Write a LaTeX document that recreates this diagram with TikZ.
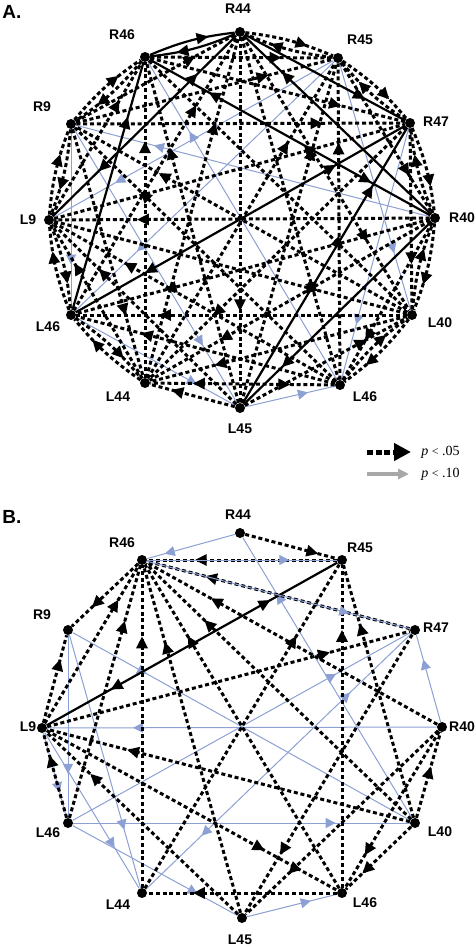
\documentclass[tikz,border=0pt]{standalone}
\usepackage{fontspec}
\setmainfont{Liberation Sans}
\newfontfamily\legserif{Liberation Serif}
\usetikzlibrary{arrows.meta,decorations.markings}
\definecolor{bluegray}{RGB}{140,160,212}
\definecolor{leggray}{RGB}{168,168,168}
\pgfdeclarelayer{bluel}
\pgfdeclarelayer{edgel}
\pgfsetlayers{bluel,edgel,main}
\newcommand\Ed[3]{\draw[#1] (#2) -- (#3);}
\newcommand\Eb[3]{\draw[#1,tip=.7] (#2) to[bend left=8] (#3);\draw[#1,tip=.7] (#3) to[bend left=8] (#2);}
\tikzset{
  dot/.style={circle,fill=black,inner sep=0pt,minimum size=5pt},
  lab/.style={font=\fontsize{7}{8}\selectfont\bfseries,inner sep=0pt},
  ttl/.style={font=\fontsize{9.5}{10}\selectfont\bfseries,inner sep=0pt},
  dl/.style={line width=1.5pt,dash pattern=on 2pt off 1.4pt,black},
  sl/.style={line width=1.1pt,black},
  bl/.style={line width=0.5pt,bluegray},
  tip/.style={postaction={decorate,decoration={markings,mark=at position #1 with {\arrow{Triangle[length=6pt,width=5.5pt]}}}}},
  rtip/.style={postaction={decorate,decoration={markings,mark=at position #1 with {\arrowreversed{Triangle[length=6pt,width=5.5pt]}}}}},
  btip/.style={postaction={decorate,decoration={markings,mark=at position #1 with {\arrow{Triangle[length=5pt,width=5pt]}}}}},
  brtip/.style={postaction={decorate,decoration={markings,mark=at position #1 with {\arrowreversed{Triangle[length=5pt,width=5pt]}}}}},
  legt/.style={font=\fontsize{7}{8}\selectfont\legserif,inner sep=0pt,anchor=west}
}
\begin{document}
\begin{tikzpicture}[x=0.5pt,y=-0.5pt]
\useasboundingbox (0,0) rectangle (476,947);
% ---------------- Panel A nodes
\foreach \n/\x/\y in {a0/240/32,a1/338/58,a2/410/123,a3/435/218,a4/412/315,a5/340/385,a6/240/408,a7/145/383,a8/71/315,a9/49/220,a10/71/124,a11/145/57}
  \node[dot] (\n) at (\x,\y) {};
\node[ttl,anchor=west] (titA) at (2,12) {A.};
\node[lab] (ta0) at (238,9) {R44};
\node[lab] (ta1) at (360,40) {R45};
\node[lab] (ta2) at (436,122) {R47};
\node[lab] (ta3) at (462,218) {R40};
\node[lab] (ta4) at (440,323) {L40};
\node[lab] (ta5) at (365,397) {L46};
\node[lab] (ta6) at (240,429) {L45};
\node[lab] (ta7) at (118,397) {L44};
\node[lab] (ta8) at (48,327) {L46};
\node[lab] (ta9) at (28,220) {L9};
\node[lab] (ta10) at (42,107) {R9};
\node[lab] (ta11) at (122,35) {R46};
% ---------------- Panel B nodes
\foreach \n/\x/\y in {b0/240/533,b1/342/560,b2/415/630,b3/442/727,b4/415/823,b5/342/893,b6/242/918,b7/142/893,b8/68/823,b9/42/728,b10/68/630,b11/142/560}
  \node[dot] (\n) at (\x,\y) {};
\node[ttl,anchor=west] (titB) at (2,517) {B.};
\node[lab] (tb0) at (238,515) {R44};
\node[lab] (tb1) at (360,548) {R45};
\node[lab] (tb2) at (436,628) {R47};
\node[lab] (tb3) at (462,727) {R40};
\node[lab] (tb4) at (440,832) {L40};
\node[lab] (tb5) at (365,903) {L46};
\node[lab] (tb6) at (240,940) {L45};
\node[lab] (tb7) at (118,905) {L44};
\node[lab] (tb8) at (48,833) {L46};
\node[lab] (tb9) at (28,727) {L9};
\node[lab] (tb10) at (42,615) {R9};
\node[lab] (tb11) at (122,543) {R46};
% ---------------- Legend
\coordinate (l1s) at (367,452); \coordinate (l1e) at (411,452);
\coordinate (l2s) at (367,474); \coordinate (l2e) at (409,474);
\draw[line width=2.5pt,dash pattern=on 3pt off 1.3pt,-{Triangle[length=8.5pt,width=8.5pt]}] (l1s) -- (l1e);
\draw[line width=1.6pt,leggray,-{Triangle[length=5.5pt,width=5pt]}] (l2s) -- (l2e);
\node[legt] (lg1) at (421,452) {\textit{p} {\fontsize{6}{7}\selectfont<} .05};
\node[legt] (lg2) at (421,474) {\textit{p} {\fontsize{6}{7}\selectfont<} .10};
% ---------------- Panel A edges
\begin{pgfonlayer}{bluel}
\Ed{bl,btip=.7}{a6}{a5}
\Ed{bl,btip=.76}{a8}{a6}
\Ed{bl,btip=.75}{a10}{a8}
\Ed{bl,btip=.77}{a1}{a4}
\Ed{bl,btip=.78}{a2}{a5}
\Ed{bl,btip=.79}{a10}{a6}
\Ed{bl,btip=.78}{a1}{a9}
\Ed{bl,btip=.76}{a1}{a8}
\Ed{bl,btip=.78}{a3}{a10}
\Ed{bl,btip=.78}{a5}{a11}
\end{pgfonlayer}
\begin{pgfonlayer}{edgel}
\Eb{dl}{a0}{a1}
\Eb{dl}{a1}{a2}
\Eb{dl}{a2}{a3}
\Eb{dl}{a3}{a4}
\Eb{dl}{a4}{a5}
\Ed{dl,tip=.75}{a6}{a7}
\Eb{dl}{a7}{a8}
\Eb{dl}{a8}{a9}
\Eb{dl}{a9}{a10}
\Eb{dl}{a10}{a11}
\Ed{dl,tip=.75}{a1}{a3}
\Ed{dl,tip=.75}{a2}{a4}
\Ed{dl,tip=.75}{a3}{a5}
\Ed{dl,tip=.75}{a6}{a4}
\Ed{dl,tip=.77,rtip=.24}{a5}{a7}
\Ed{dl,tip=.75}{a7}{a9}
\Ed{dl,tip=.75}{a9}{a11}
\Ed{dl,tip=.75}{a10}{a0}
\Ed{dl,tip=.72}{a11}{a1}
\Ed{dl,tip=.75}{a4}{a7}
\Ed{dl,tip=.75}{a5}{a8}
\Ed{dl,tip=.75}{a6}{a9}
\Ed{dl,tip=.75}{a10}{a7}
\Ed{dl,tip=.75}{a10}{a1}
\Ed{dl,tip=.75}{a11}{a2}
\Ed{dl,tip=.75}{a0}{a4}
\Ed{dl,tip=.75}{a5}{a1}
\Ed{dl,tip=.75}{a3}{a7}
\Ed{dl,tip=.75}{a4}{a8}
\Ed{dl,tip=.75}{a5}{a9}
\Ed{dl,tip=.75}{a7}{a11}
\Ed{dl,tip=.75}{a8}{a0}
\Ed{dl,tip=.75}{a10}{a2}
\Ed{dl,tip=.75}{a0}{a5}
\Ed{dl,tip=.75}{a6}{a1}
\Ed{dl,tip=.75}{a2}{a7}
\Ed{dl,tip=.75}{a3}{a8}
\Ed{dl,tip=.75}{a9}{a4}
\Ed{dl,tip=.75}{a5}{a10}
\Ed{dl,tip=.75}{a6}{a11}
\Ed{dl,tip=.75}{a7}{a0}
\Ed{dl,tip=.75}{a9}{a2}
\Ed{dl,tip=.75}{a11}{a4}
\Ed{dl,tip=.75}{a0}{a6}
\Ed{dl,tip=.75}{a7}{a1}
\Ed{dl,tip=.78}{a3}{a9}
\Ed{dl,tip=.75}{a4}{a10}
% solid
\Eb{sl}{a11}{a0}
\Ed{sl,tip=.75}{a0}{a2}
\Ed{sl,tip=.8}{a3}{a0}
\Ed{sl,tip=.8}{a3}{a6}
\Ed{sl,tip=.78}{a8}{a11}
\Ed{sl,tip=.79,rtip=.25}{a9}{a0}
\Ed{sl,tip=.79}{a6}{a2}
\Ed{sl,tip=.79,rtip=.21}{a11}{a3}
\Ed{sl,tip=.79,rtip=.21}{a8}{a2}
\end{pgfonlayer}
% ---------------- Panel B edges
\begin{pgfonlayer}{bluel}
\Ed{bl,btip=.8}{b0}{b11}
\Ed{bl,btip=.8}{b4}{b0}
\Ed{bl,btip=.78}{b3}{b9}
\Ed{bl,btip=.7}{b9}{b8}
\Ed{bl,btip=.74}{b9}{b7}
\Ed{bl,btip=.76}{b10}{b8}
\Ed{bl,btip=.77}{b10}{b7}
\Ed{bl,btip=.22}{b10}{b4}
\Ed{bl,btip=.78}{b8}{b4}
\Ed{bl,btip=.78}{b8}{b2}
\Ed{bl,btip=.76}{b8}{b6}
\Ed{bl,btip=.77,brtip=.21}{b7}{b2}
\Ed{bl,btip=.71}{b6}{b5}
\Ed{bl,btip=.72}{b3}{b2}
\end{pgfonlayer}
\begin{pgfonlayer}{edgel}
\Ed{dl,tip=.8}{b0}{b1}
\Ed{dl,tip=.75}{b1}{b11}
\Ed{dl,tip=.78}{b2}{b11}
\Ed{dl,tip=.78}{b3}{b11}
\Ed{dl,tip=.78}{b4}{b11}
\Ed{dl,tip=.78}{b5}{b11}
\Ed{dl,tip=.78}{b6}{b11}
\Ed{dl,tip=.78}{b7}{b11}
\Ed{dl,tip=.78}{b8}{b11}
\Ed{dl,tip=.78}{b9}{b11}
\Ed{dl,tip=.7}{b11}{b10}
\Ed{dl,tip=.73}{b9}{b10}
\Ed{dl,tip=.78}{b9}{b2}
\Ed{dl,tip=.78}{b4}{b9}
\Ed{dl,tip=.77}{b6}{b9}
\Ed{dl,tip=.74}{b8}{b9}
\Ed{dl,tip=.78}{b7}{b1}
\Ed{dl,tip=.76}{b5}{b7}
\Ed{dl,tip=.8}{b5}{b1}
\Ed{dl,tip=.77}{b4}{b1}
\Ed{dl,tip=.6}{b4}{b3}
\Ed{dl,tip=.78}{b3}{b6}
\Ed{dl,tip=.79}{b3}{b5}
\Ed{dl,tip=.79}{b2}{b6}
\Ed{dl,tip=.75}{b4}{b5}
\Ed{dl,tip=.75}{b9}{b5}
\Ed{sl,tip=.77,rtip=.22}{b9}{b1}
\end{pgfonlayer}
\begin{pgfonlayer}{main}
\Ed{bl,btip=.75}{b11}{b1}
\Ed{bl,btip=.77}{b11}{b2}
\end{pgfonlayer}
\end{tikzpicture}
\end{document}
